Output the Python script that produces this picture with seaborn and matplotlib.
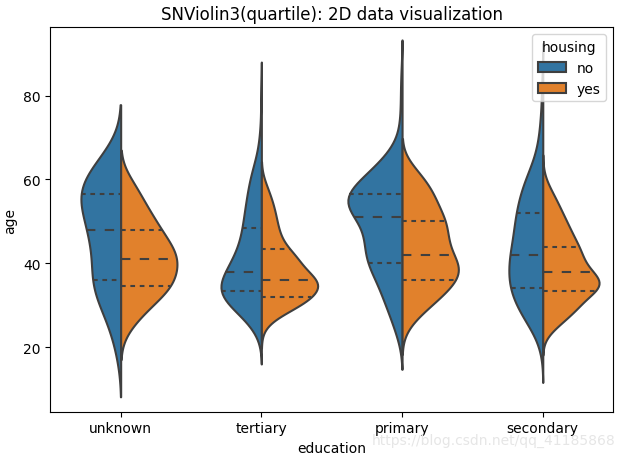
import numpy as np
import pandas as pd
import matplotlib
matplotlib.use("Agg")
import matplotlib.pyplot as plt
import seaborn as sns

# age bins (years) and the number of clients per bin
AGES = [18, 20, 22, 24, 26, 28, 30, 32, 34, 36, 38, 40, 42, 44, 46, 48, 50, 52, 54,
        56, 58, 60, 62, 64, 66, 68, 70, 72, 74, 76, 78, 80, 82, 84, 86, 88, 90]

EDUCATION = ["unknown", "tertiary", "primary", "secondary"]
HOUSING = ["no", "yes"]

unknown_no = [1, 1, 1, 1, 2, 3, 3, 3, 5, 6, 3, 4, 4, 4, 5, 5, 5, 5, 6, 8, 6, 6, 5, 4, 2, 2,
              0, 0, 0, 0, 0, 0, 0, 0, 0, 0, 0]
unknown_yes = [0, 0, 0, 1, 2, 3, 4, 5, 8, 7, 7, 8, 8, 7, 6, 5, 5, 4, 3, 3, 2, 2,
               0, 0, 0, 0, 0, 0, 0, 0, 0, 0, 0, 0, 0, 0, 0]
tertiary_no = [0, 0, 3, 9, 20, 32, 48, 63, 65, 60, 52, 45, 38, 33, 30, 27, 27, 24, 23, 21,
               19, 17, 14, 10, 6, 4, 3, 2, 1, 1, 1, 1, 1, 0, 0, 0, 0]
tertiary_yes = [0, 0, 0, 2, 10, 30, 55, 70, 80, 80, 60, 52, 48, 32, 27, 23, 21, 19, 16, 13,
                8, 4, 0, 0, 0, 0, 0, 0, 0, 0, 0, 0, 0, 0, 0, 0, 0]
primary_no = [0, 0, 2, 3, 4, 5, 7, 8, 9, 10, 12, 16, 15, 15, 15, 15, 14, 22, 26, 27, 20,
              17, 13, 9, 6, 3, 1, 1, 1, 1, 0, 1, 1, 0, 1, 0, 0]
primary_yes = [0, 0, 0, 2, 5, 10, 15, 20, 25, 28, 32, 30, 25, 24, 23, 23, 24, 20, 18, 17,
               15, 12, 8, 4, 0, 0, 0, 0, 0, 0, 0, 0, 0, 0, 0, 0, 0]
secondary_no = [2, 4, 9, 16, 25, 34, 40, 46, 50, 52, 52, 50, 52, 46, 44, 44, 42, 40, 38, 35,
                31, 27, 21, 15, 11, 8, 6, 5, 4, 3, 2, 2, 2, 1, 1, 0, 0]
secondary_yes = [0, 0, 5, 25, 50, 75, 95, 110, 150, 150, 125, 105, 100, 92, 80, 70, 60, 50,
                 40, 30, 18, 8, 2, 0, 0, 0, 0, 0, 0, 0, 0, 0, 0, 0, 0, 0, 0]

counts = {
    ("unknown", "no"): unknown_no, ("unknown", "yes"): unknown_yes,
    ("tertiary", "no"): tertiary_no, ("tertiary", "yes"): tertiary_yes,
    ("primary", "no"): primary_no, ("primary", "yes"): primary_yes,
    ("secondary", "no"): secondary_no, ("secondary", "yes"): secondary_yes,
}

frames = []
for (edu, house), cnt in counts.items():
    age = np.repeat(AGES, cnt)
    frames.append(pd.DataFrame({"education": edu, "housing": house, "age": age}))
df = pd.concat(frames, ignore_index=True)

fig, ax = plt.subplots(figsize=(6.25, 4.6))

# one call per category so the two halves are scaled against each other only
for edu in EDUCATION:
    sub = df[df["education"] == edu]
    sns.violinplot(data=sub, x="education", y="age", hue="housing", split=True,
                   inner="quart", order=EDUCATION, hue_order=HOUSING,
                   density_norm="area", common_norm=True, linewidth=1.5,
                   ax=ax, legend=(edu == EDUCATION[-1]))

# quartile lines: short dashes, median: long dashes (lines come as q1, median, q3)
for i, line in enumerate(ax.lines):
    line.set_linewidth(1.5)
    if i % 3 == 1:
        line.set_dashes([4.5, 4.5])
    else:
        line.set_dashes([2.25, 2.25])

sns.move_legend(ax, "upper right", title="housing")
ax.set_ylim(4.6, 96.3)
ax.set_xlim(-0.5, 3.5)
ax.set_title("SNViolin3(quartile): 2D data visualization")
ax.set_xlabel("education")
ax.set_ylabel("age")

fig.text(0.79, 0.041, "https://blog.csdn.net/qq_41185868", color="#e6e6e6",
         fontsize=10, ha="center", va="center")

plt.subplots_adjust(left=0.0805, right=0.981, bottom=0.1028, top=0.9385)
plt.savefig("out.png", dpi=100)
plt.close()
